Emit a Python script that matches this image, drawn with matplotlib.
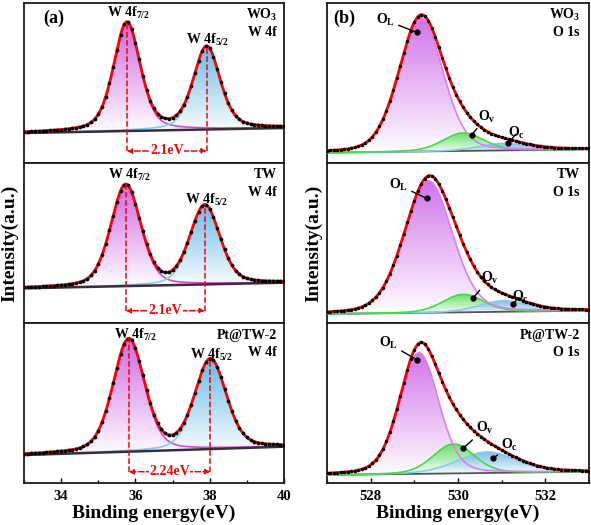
import numpy as np
import matplotlib
matplotlib.use('Agg')
import matplotlib.pyplot as plt
from matplotlib.patches import Polygon
from matplotlib.colors import LinearSegmentedColormap
from matplotlib.ticker import MultipleLocator

plt.rcParams['font.family'] = ['Liberation Serif', 'DejaVu Serif']
plt.rcParams['font.weight'] = 'bold'
plt.rcParams['mathtext.fontset'] = 'custom'
plt.rcParams['mathtext.rm'] = 'Liberation Serif:bold'
plt.rcParams['mathtext.it'] = 'Liberation Serif:bold'
plt.rcParams['mathtext.bf'] = 'Liberation Serif:bold'

# ---------------- W 4f data (panel units, 0-160) ----------------
w_samples = ['WO$_3$', 'TW', 'Pt@TW-2']
w_bg = [(30.0, 35.0), (34.7, 40.3), (28.0, 36.3)]          # background at 33 / 40 eV
w_centers = [(35.77, 37.92), (35.74, 37.87), (35.82, 38.02)]
w_heights = [(108, 82), (101, 78.5), (112, 89)]
w_fwhm = [0.85, 0.95, 1.0]
w_eta = [0.4, 0.3, 0.3]
w_split = ['2.1eV', '2.1eV', '2.24eV']
w_arrow_y = [12, 12.3, 11.3]
w_lab72 = [(35.8, 150), (35.85, 148), (35.99, 148)]
w_lab52 = [(37.93, 123), (37.92, 123), (38.05, 128)]

# ---------------- O 1s data ----------------
o_samples = ['WO$_3$', 'TW', 'Pt@TW-2']
o_bg = [(10.3, 13.7), (9.0, 12.3), (8.0, 11.3)]             # background at 527 / 533 eV
o_centers = [(529.15, 530.12, 531.04), (529.32, 530.12, 531.04), (529.11, 529.9, 530.66)]
o_heights = [(134, 18, 7), (132, 18, 11), (121, 29.5, 21)]
o_fwhm = [(1.18, 1.1, 1.3), (1.3, 1.1, 1.3), (1.05, 1.1, 1.6)]
o_eta = 0.2
o_names = ['O$_\\mathrm{L}$', 'O$_\\mathrm{v}$', 'O$_\\mathrm{c}$']
o_text = [[(528.33, 143), (530.66, 46.3), (531.34, 29.7)],
          [(528.63, 138), (530.73, 44.7), (531.42, 26.3)],
          [(528.4, 139.7), (530.62, 54.7), (531.19, 38)]]
o_dot = [[(529.05, 130.7), (530.31, 28), (531.15, 19.7)],
         [(529.28, 124.7), (530.34, 24.7), (531.25, 19)],
         [(529.07, 123), (530.12, 34.7), (530.81, 24.7)]]


def pv(x, c, h, fwhm, eta):
    hw = fwhm / 2.0
    g = np.exp(-np.log(2) * ((x - c) / hw) ** 2)
    l = 1.0 / (1.0 + ((x - c) / hw) ** 2)
    return h * ((1 - eta) * g + eta * l)


def grad_fill(ax, x, lo, hi, color, alpha=0.9):
    verts = np.column_stack([np.r_[x, x[::-1]], np.r_[hi, lo[::-1]]])
    poly = Polygon(verts, closed=True, fc='none', ec='none')
    ax.add_patch(poly)
    cmap = LinearSegmentedColormap.from_list('g', ['white', color])
    grad = np.linspace(0, 1, 256).reshape(-1, 1)
    im = ax.imshow(grad, extent=[x.min(), x.max(), lo.min(), hi.max()],
                   origin='lower', aspect='auto', cmap=cmap, alpha=alpha,
                   zorder=1, interpolation='bilinear')
    im.set_clip_path(poly)


fig = plt.figure(figsize=(5.91, 5.25), dpi=100)
W, H = 591.0, 525.0
bottoms = [163, 323, 483]

axes_l, axes_r = [], []
for i in range(3):
    y0 = (H - bottoms[i]) / H
    axes_l.append(fig.add_axes([24 / W, y0, 260 / W, 160 / H]))
    axes_r.append(fig.add_axes([327 / W, y0, 262 / W, 160 / H]))

# ---------------- left column ----------------
xw = np.linspace(33, 40, 701)
xw_d = np.arange(33, 40.001, 0.1)
for i, ax in enumerate(axes_l):
    b0, b1 = w_bg[i]
    bg = b0 + (b1 - b0) * (xw - 33) / 7.0
    bg_d = b0 + (b1 - b0) * (xw_d - 33) / 7.0
    p1 = pv(xw, w_centers[i][0], w_heights[i][0], w_fwhm[i], w_eta[i])
    p2 = pv(xw, w_centers[i][1], w_heights[i][1], w_fwhm[i], w_eta[i])
    env_d = bg_d + pv(xw_d, w_centers[i][0], w_heights[i][0], w_fwhm[i], w_eta[i]) \
        + pv(xw_d, w_centers[i][1], w_heights[i][1], w_fwhm[i], w_eta[i])
    grad_fill(ax, xw, bg, bg + p1, '#c84ee0', alpha=0.85)
    grad_fill(ax, xw, bg, bg + p2, '#4fb0e6', alpha=0.85)
    ax.plot(xw, bg + p1, color='#e23ee6', lw=1.2, zorder=3)
    ax.plot(xw, bg + p2, color='#7fd0f2', lw=1.2, zorder=3)
    ax.plot(xw, bg, color='#3a2c3a', lw=1.8, zorder=4)
    ax.plot(xw, bg + p1 + p2, color='red', lw=2.0, zorder=5)
    ax.plot(xw_d, env_d, 'o', color='black', ms=2.7, mew=0, zorder=6)

    # splitting markers
    ya = w_arrow_y[i]
    for c in w_centers[i]:
        top = b0 + (b1 - b0) * (c - 33) / 7.0 \
            + pv(c, w_centers[i][0], w_heights[i][0], w_fwhm[i], w_eta[i]) \
            + pv(c, w_centers[i][1], w_heights[i][1], w_fwhm[i], w_eta[i])
        ax.plot([c, c], [ya, top], color='red', ls='--', lw=1.1, zorder=7)
    ax.annotate('', xy=(w_centers[i][0], ya), xytext=(w_centers[i][1], ya),
                arrowprops=dict(arrowstyle='<|-|>', color='red', lw=1.1, ls='--',
                                shrinkA=0, shrinkB=0, mutation_scale=7), zorder=7)
    ax.text(np.mean(w_centers[i]), ya, w_split[i], color='red', fontsize=10,
            ha='center', va='center', zorder=8,
            bbox=dict(fc='white', ec='none', pad=0.3))

    ax.text(*w_lab72[i], 'W 4f$_{7/2}$', fontsize=10, ha='center', va='center', zorder=8)
    ax.text(*w_lab52[i], 'W 4f$_{5/2}$', fontsize=10, ha='center', va='center', zorder=8)
    ax.text(39.81, 148, w_samples[i], fontsize=10, ha='right', va='center')
    ax.text(39.81, 130, 'W 4f', fontsize=10, ha='right', va='center')

    ax.set_xlim(33, 40)
    ax.set_ylim(0, 160)

# ---------------- right column ----------------
xo = np.linspace(527, 533, 601)
xo_d = np.arange(527, 533.001, 0.08)
o_fill = ['#c85ae6', '#4fdc4f', '#62b2e2']
o_line = ['#e07cf2', '#3ee03e', '#86caf0']
for i, ax in enumerate(axes_r):
    b0, b1 = o_bg[i]
    bg = b0 + (b1 - b0) * (xo - 527) / 6.0
    bg_d = b0 + (b1 - b0) * (xo_d - 527) / 6.0
    comps = [pv(xo, o_centers[i][k], o_heights[i][k], o_fwhm[i][k], o_eta) for k in range(3)]
    env_d = bg_d + sum(pv(xo_d, o_centers[i][k], o_heights[i][k], o_fwhm[i][k], o_eta)
                       for k in range(3))
    for k in range(3):
        grad_fill(ax, xo, bg, bg + comps[k], o_fill[k], alpha=0.85)
    ax.plot(xo, bg, color='#555555', lw=1.3, zorder=3)
    for k in [2, 1, 0]:
        ax.plot(xo, bg + comps[k], color=o_line[k], lw=1.2, zorder=3)
    ax.plot(xo, bg + sum(comps), color='red', lw=2.0, zorder=5)
    ax.plot(xo_d, env_d, 'o', color='black', ms=2.5, mew=0, zorder=6)

    for k in range(3):
        ax.annotate(o_names[k], xy=o_dot[i][k], xytext=o_text[i][k], fontsize=10,
                    ha='center', va='center', zorder=8,
                    arrowprops=dict(arrowstyle='-', color='black', lw=1.0,
                                    shrinkA=1, shrinkB=0))
        ax.plot(*o_dot[i][k], 'o', color='black', ms=3.5, zorder=9)

    ax.text(532.79, 148, o_samples[i], fontsize=10, ha='right', va='center')
    ax.text(532.79, 130, 'O 1s', fontsize=10, ha='right', va='center')

    ax.set_xlim(527, 533)
    ax.set_ylim(0, 160)

# ---------------- frames and ticks ----------------
for col, axes in enumerate([axes_l, axes_r]):
    for i, ax in enumerate(axes):
        for sp in ax.spines.values():
            sp.set_linewidth(1.3)
            sp.set_color('#1a1a1a')
        ax.set_yticks([])
        if i < 2:
            ax.set_xticks([])
        else:
            ax.xaxis.set_major_locator(MultipleLocator(2))
            ax.xaxis.set_minor_locator(MultipleLocator(1))
            ax.tick_params(axis='x', which='both', direction='in', width=1.0,
                           labelsize=10.5)
            ax.tick_params(axis='x', which='major', length=3.5, pad=5)
            ax.tick_params(axis='x', which='minor', length=2.5)
            for lab in ax.get_xticklabels():
                lab.set_fontweight('bold')
            ax.set_xlabel('Binding energy(eV)', fontsize=14, fontweight='bold',
                          labelpad=1)

axes_l[0].text(0.115, 0.905, '(a)', transform=axes_l[0].transAxes, fontsize=13,
               fontweight='bold', ha='center', va='center')
axes_r[0].text(0.065, 0.905, '(b)', transform=axes_r[0].transAxes, fontsize=13,
               fontweight='bold', ha='center', va='center')

fig.text(10 / W, 1 - 243 / H, 'Intensity(a.u.)', rotation=90, fontsize=14,
         fontweight='bold', ha='center', va='center')
fig.text(314 / W, 1 - 243 / H, 'Intensity(a.u.)', rotation=90, fontsize=14,
         fontweight='bold', ha='center', va='center')

fig.savefig('out.png', dpi=100)
